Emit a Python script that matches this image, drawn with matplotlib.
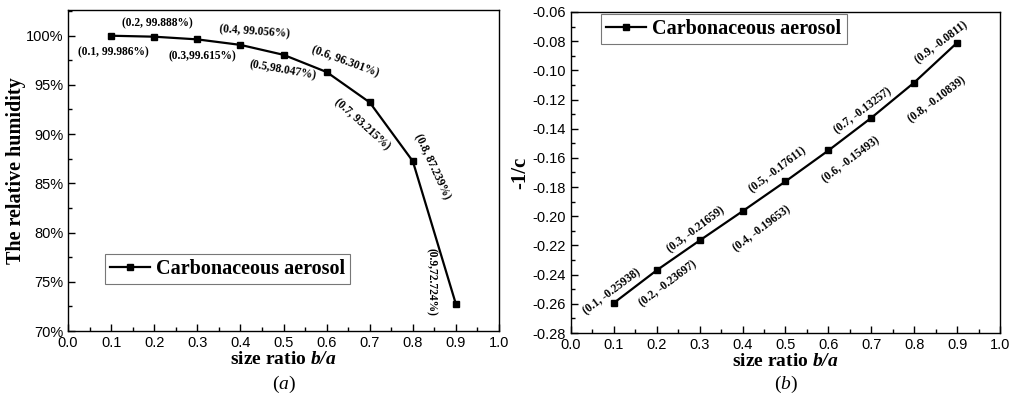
import numpy as np
import matplotlib.pyplot as plt
from matplotlib.ticker import MultipleLocator, FuncFormatter

# size ratio b/a
ratio = [0.1, 0.2, 0.3, 0.4, 0.5, 0.6, 0.7, 0.8, 0.9]
# relative humidity (%) for panel (a)
humidity = [99.986, 99.888, 99.615, 99.056, 98.047, 96.301, 93.215, 87.239, 72.724]
humidity_labels = ['(0.1, 99.986%)', '(0.2, 99.888%)', '(0.3,99.615%)', '(0.4, 99.056%)',
                   '(0.5,98.047%)', '(0.6, 96.301%)', '(0.7, 93.215%)', '(0.8, 87.239%)',
                   '(0.9,72.724%)']
# -1/c for panel (b)
neg_inv_c = [-0.25938, -0.23697, -0.21659, -0.19653, -0.17611, -0.15493, -0.13257, -0.10839, -0.0811]
c_labels = ['(0.1, -0.25938)', '(0.2, -0.23697)', '(0.3, -0.21659)', '(0.4, -0.19653)',
            '(0.5, -0.17611)', '(0.6, -0.15493)', '(0.7, -0.13257)', '(0.8, -0.10839)',
            '(0.9, -0.0811)']

# label placement (offset in pixels, rotation)
hum_off = [(2, -17), (3, 13), (5, -17), (14, 13), (-1, -15), (19, 10), (-8, -22), (19, -5), (-25, 22)]
hum_rot = [0, 0, 0, -4, -10, -20, -42, -65, -90]
c_off = [(-2, 11), (11, -14), (-4, 11), (19, -18), (-8, 11), (23, -9), (-8, 7), (23, -17), (-16, 0)]

serif = 'Liberation Serif'
plt.rcParams['font.family'] = 'Liberation Sans'
plt.rcParams['mathtext.fontset'] = 'custom'
plt.rcParams['mathtext.it'] = 'Liberation Serif:italic'
plt.rcParams['mathtext.bf'] = 'Liberation Serif:bold:italic'
plt.rcParams['mathtext.rm'] = 'Liberation Serif'

fig = plt.figure(figsize=(10.11, 3.98), dpi=100)
ax1 = fig.add_axes([0.0673, 0.1683, 0.4263, 0.8066])
ax2 = fig.add_axes([0.5648, 0.1633, 0.4243, 0.8067])

def style(ax):
    ax.tick_params(which='both', direction='in', labelsize=10.5, top=False, right=False)
    ax.tick_params(which='major', length=5, width=1)
    ax.tick_params(which='minor', length=3, width=1)
    for s in ax.spines.values():
        s.set_linewidth(1)
    ax.set_xlim(0, 1.0)
    ax.xaxis.set_major_locator(MultipleLocator(0.1))
    ax.xaxis.set_minor_locator(MultipleLocator(0.05))
    ax.xaxis.set_major_formatter(FuncFormatter(lambda v, p: f'{v:.1f}'))
    ax.set_xlabel(r'size ratio $\mathbf{b/a}$', fontsize=14, fontweight='bold', family=serif, labelpad=1)

# panel (a)
ax1.plot(ratio, humidity, color='black', lw=1.6, marker='s', ms=5, label='Carbonaceous aerosol')
style(ax1)
ax1.set_ylim(70, 102.6)
ax1.yaxis.set_major_locator(MultipleLocator(5))
ax1.yaxis.set_minor_locator(MultipleLocator(2.5))
ax1.yaxis.set_major_formatter(FuncFormatter(lambda v, p: f'{v:.0f}%'))
ax1.set_ylabel('The relative humidity', fontsize=14.5, fontweight='bold', family=serif, labelpad=0)
for x, y, t, o, r in zip(ratio, humidity, humidity_labels, hum_off, hum_rot):
    ax1.annotate(t, (x, y), xytext=o, textcoords='offset pixels', ha='center', va='center',
                 rotation=r, rotation_mode='anchor', fontsize=8.3, fontweight='bold', family=serif)
leg = ax1.legend(loc='lower left', bbox_to_anchor=(0.085, 0.145), fancybox=False, edgecolor='#555555',
                 prop={'family': serif, 'weight': 'bold', 'size': 14.5}, handlelength=2.0,
                 handletextpad=0.3, borderpad=0.25, borderaxespad=0)
leg.get_frame().set_linewidth(0.8)
fig.text(0.2805, 0.035, r'($a$)', ha='center', va='center', fontsize=14, family=serif)

# panel (b)
ax2.plot(ratio, neg_inv_c, color='black', lw=1.6, marker='s', ms=5, label='Carbonaceous aerosol')
style(ax2)
ax2.set_ylim(-0.28, -0.06)
ax2.yaxis.set_major_locator(MultipleLocator(0.02))
ax2.yaxis.set_minor_locator(MultipleLocator(0.01))
ax2.yaxis.set_major_formatter(FuncFormatter(lambda v, p: f'{v:.2f}'))
ax2.set_ylabel('-1/c', fontsize=15, fontweight='bold', family=serif, labelpad=2)
for x, y, t, o in zip(ratio, neg_inv_c, c_labels, c_off):
    ax2.annotate(t, (x, y), xytext=o, textcoords='offset pixels', ha='center', va='center',
                 rotation=37, rotation_mode='anchor', fontsize=8.3, fontweight='bold', family=serif)
leg2 = ax2.legend(loc='upper left', bbox_to_anchor=(0.07, 0.995), fancybox=False, edgecolor='#555555',
                  prop={'family': serif, 'weight': 'bold', 'size': 14.5}, handlelength=2.0,
                  handletextpad=0.3, borderpad=0.25, borderaxespad=0)
leg2.get_frame().set_linewidth(0.8)
fig.text(0.777, 0.035, r'($b$)', ha='center', va='center', fontsize=14, family=serif)

fig.savefig('out.png', dpi=100)
